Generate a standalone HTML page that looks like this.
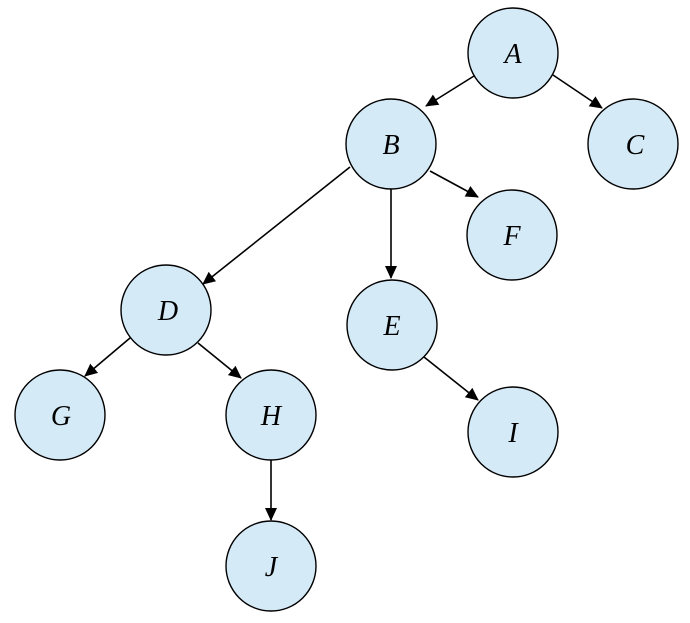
<!DOCTYPE html>
<html><head><meta charset="utf-8"><style>html,body{margin:0;padding:0;background:#fff}</style></head>
<body>
<svg width="690" height="618" viewBox="0 0 690 618" xmlns="http://www.w3.org/2000/svg">
<defs><marker id="ar" markerWidth="13" markerHeight="12" refX="12" refY="6" orient="auto" markerUnits="userSpaceOnUse"><path d="M0,0 L13,6 L0,12 z" fill="#000"/></marker></defs>
<g stroke="#000" stroke-width="1.6" marker-end="url(#ar)">
<line x1="474" y1="76" x2="426" y2="106"/>
<line x1="553" y1="75" x2="602" y2="108"/>
<line x1="350" y1="167" x2="203" y2="284"/>
<line x1="391" y1="189" x2="391" y2="278"/>
<line x1="430" y1="171" x2="478" y2="197"/>
<line x1="130" y1="338" x2="85" y2="376"/>
<line x1="198" y1="343" x2="241" y2="378"/>
<line x1="424" y1="357" x2="478" y2="400"/>
<line x1="271" y1="460" x2="271" y2="520"/>
</g>
<g fill="#d5eaf7" stroke="#000" stroke-width="1.4">
<circle cx="513" cy="53" r="45"/><circle cx="391" cy="144" r="45"/><circle cx="633" cy="144" r="45"/>
<circle cx="512" cy="235" r="45"/><circle cx="166" cy="310" r="45"/><circle cx="392" cy="325" r="45"/>
<circle cx="60" cy="415" r="45"/><circle cx="271" cy="415" r="45"/><circle cx="513" cy="432" r="45"/>
<circle cx="271" cy="566" r="45"/>
</g>
<g font-family="Liberation Serif, serif" font-style="italic" font-size="28" text-anchor="middle">
<text x="513" y="63">A</text><text x="391" y="154">B</text><text x="635" y="154">C</text>
<text x="512" y="245">F</text><text x="168" y="320">D</text><text x="392" y="335">E</text>
<text x="61" y="425">G</text><text x="271" y="425">H</text><text x="513" y="442">I</text>
<text x="271" y="576">J</text>
</g>
</svg>
</body></html>
